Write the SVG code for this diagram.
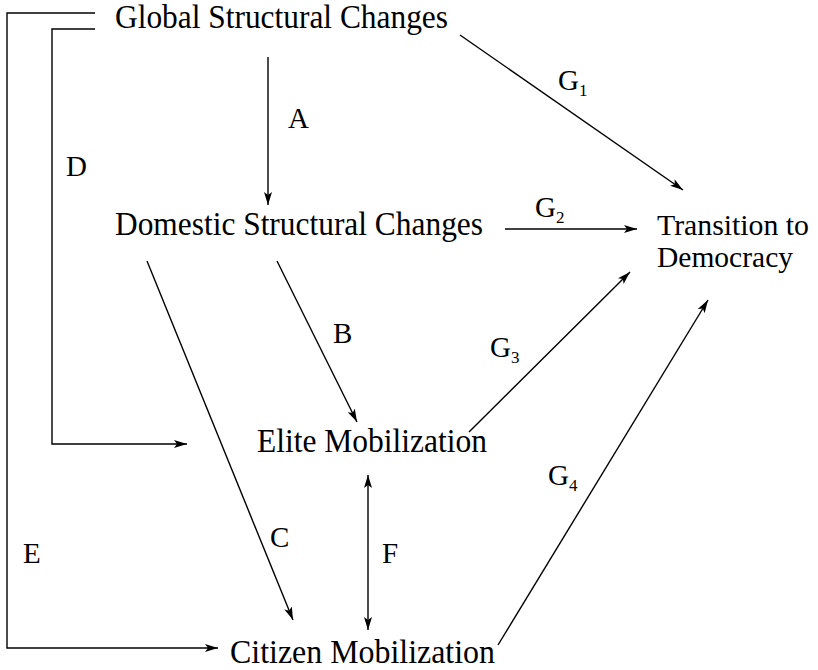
<svg xmlns="http://www.w3.org/2000/svg" width="818" height="670" viewBox="0 0 818 670">
<defs>
<marker id="ah" viewBox="0 0 13 8" refX="13" refY="4" markerWidth="13" markerHeight="8" markerUnits="userSpaceOnUse" orient="auto-start-reverse">
<path d="M0,0 L13,4 L0,8 L3,4 Z" fill="#000"/>
</marker>
</defs>
<style>
.t{font-family:"Liberation Serif","Times New Roman",serif;font-size:33px;fill:#000}
.tr{font-size:30px}
.l{font-family:"Liberation Serif","Times New Roman",serif;font-size:29px;fill:#000}
.s{font-size:17px}
.c{fill:none;stroke:#000;stroke-width:1.4}
</style>
<rect width="818" height="670" fill="#fff"/>
<g id="connectors">
<path class="c" d="M95,13 H7 V648 H218" marker-end="url(#ah)"/>
<path class="c" d="M95,29 H52 V444 H187" marker-end="url(#ah)"/>
<line class="c" x1="268" y1="57" x2="268" y2="205" marker-end="url(#ah)"/>
<line class="c" x1="460" y1="35" x2="683" y2="190" marker-end="url(#ah)"/>
<line class="c" x1="505" y1="229" x2="637" y2="229" marker-end="url(#ah)"/>
<line class="c" x1="277" y1="261" x2="357" y2="422" marker-end="url(#ah)"/>
<line class="c" x1="147" y1="261" x2="293" y2="620" marker-end="url(#ah)"/>
<line class="c" x1="469" y1="432" x2="630" y2="272" marker-end="url(#ah)"/>
<line class="c" x1="498" y1="645" x2="708" y2="300" marker-end="url(#ah)"/>
<line class="c" x1="368" y1="475" x2="368" y2="630" marker-start="url(#ah)" marker-end="url(#ah)"/>
</g>
<g id="labels">
<text class="l" x="288" y="128">A</text>
<text class="l" x="333" y="343">B</text>
<text class="l" x="270" y="547">C</text>
<text class="l" x="66" y="176">D</text>
<text class="l" x="23" y="563">E</text>
<text class="l" x="382" y="563">F</text>
<text class="l" x="558" y="90">G<tspan class="s" dy="6">1</tspan></text>
<text class="l" x="535" y="217">G<tspan class="s" dy="6">2</tspan></text>
<text class="l" x="490" y="357">G<tspan class="s" dy="6">3</tspan></text>
<text class="l" x="548" y="485">G<tspan class="s" dy="6">4</tspan></text>
</g>
<g id="global"><text class="t" x="115" y="28" textLength="333" lengthAdjust="spacingAndGlyphs">Global Structural Changes</text></g>
<g id="domestic"><text class="t" x="115" y="235" textLength="368" lengthAdjust="spacingAndGlyphs">Domestic Structural Changes</text></g>
<g id="transition"><text class="t tr" x="657" y="235" textLength="152" lengthAdjust="spacingAndGlyphs">Transition to</text><text class="t tr" x="657" y="267" textLength="136" lengthAdjust="spacingAndGlyphs">Democracy</text></g>
<g id="elite"><text class="t" x="257" y="452" textLength="230" lengthAdjust="spacingAndGlyphs">Elite Mobilization</text></g>
<g id="citizen"><text class="t" x="230" y="663" textLength="265" lengthAdjust="spacingAndGlyphs">Citizen Mobilization</text></g>
</svg>
